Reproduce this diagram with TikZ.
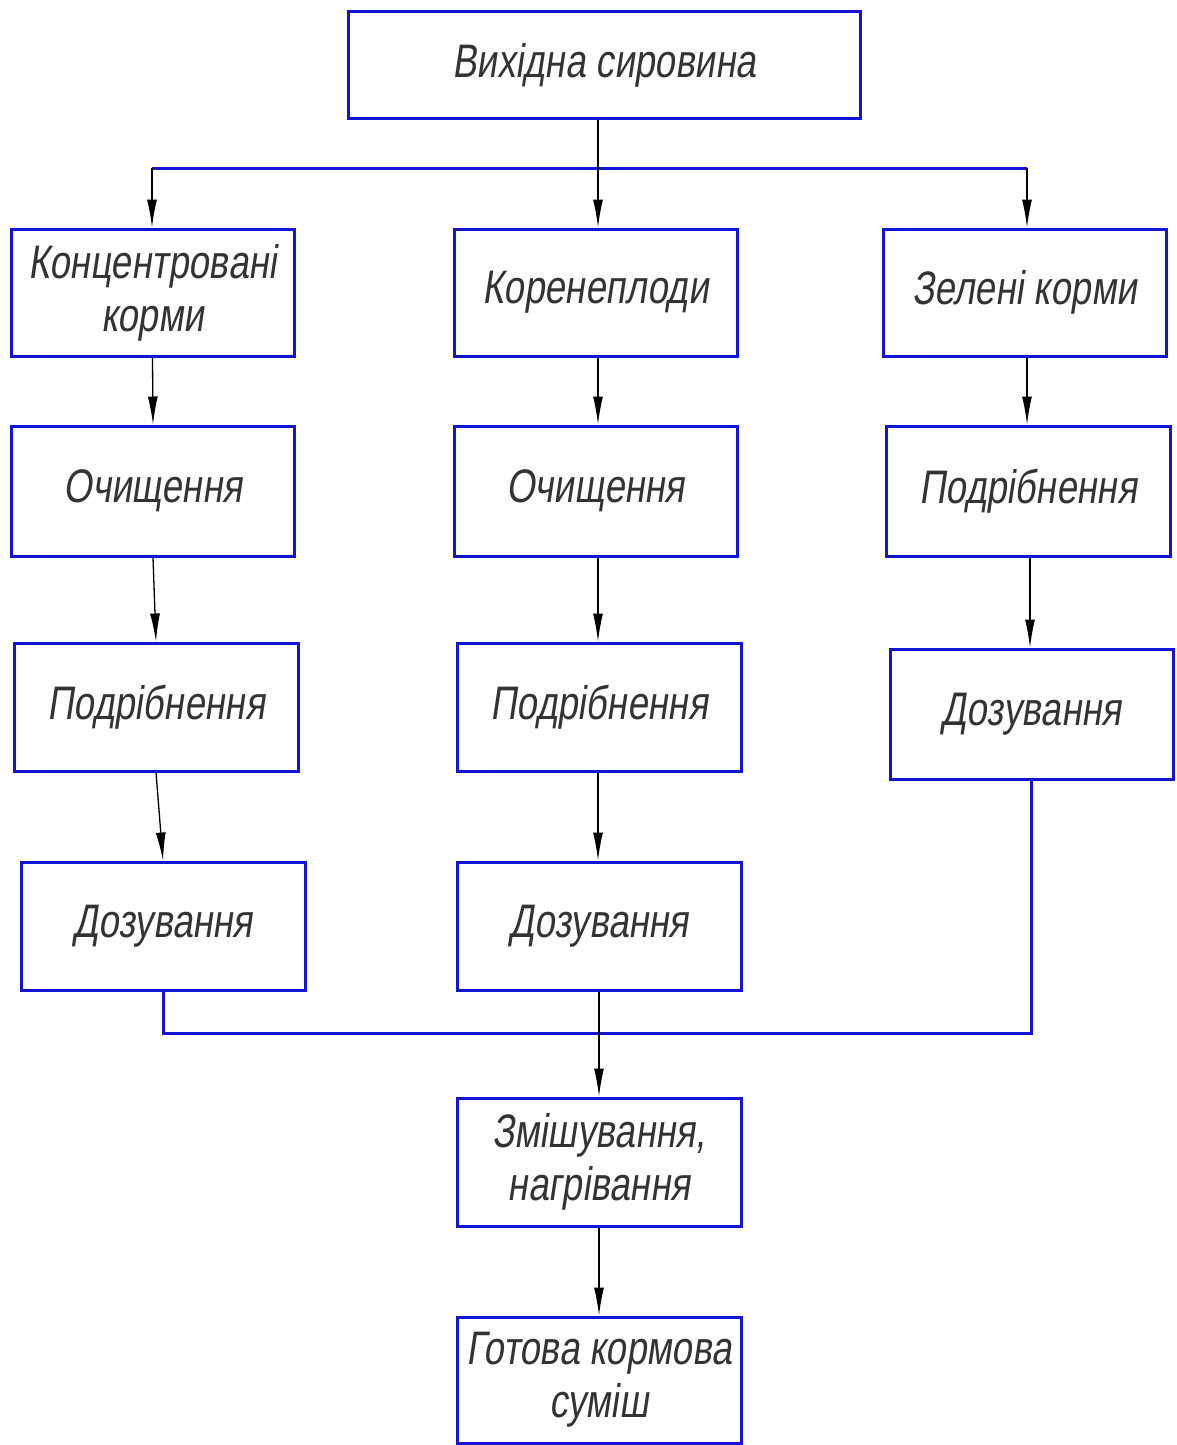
\documentclass[tikz,border=0pt]{standalone}
\usepackage{fontspec}
\setmainfont{Liberation Sans}[ItalicFont={Liberation Sans Italic}]
\newfontfamily\gostfont{Liberation Sans}[FakeStretch=0.78,FakeSlant=0.15]
\usetikzlibrary{arrows.meta}
\definecolor{lineblue}{RGB}{20,20,215}
\begin{document}
\begin{tikzpicture}[x=1pt,y=-1pt,
  box/.style={draw=lineblue,line width=3pt,rectangle,align=center,inner sep=0pt,
    font=\gostfont\fontsize{47}{53}\selectfont,text=black!80},
  rowbox/.style={box,minimum width=283pt,minimum height=128pt},
  arr/.style={draw=black,line width=1.3pt,-{Latex[length=28pt,width=10pt]}},
  bus/.style={draw=lineblue,line width=3pt}]
\useasboundingbox (0,0) rectangle (1176,1445);
\fill[white] (0,0) rectangle (1176,1445);
% nodes
\node[box,minimum width=512pt,minimum height=106pt] (top) at (604,65) {Вихідна сировина};
\node[rowbox,minimum height=127pt] (c1) at (152.5,292.5) {Концентровані\\корми};
\node[rowbox,minimum height=127pt] (c2) at (595.5,292.5) {Коренеплоди};
\node[rowbox,minimum height=127pt] (c3) at (1024.5,292.5) {Зелені корми};
\node[rowbox,minimum height=130pt] (o1) at (153,491) {Очищення};
\node[rowbox,minimum height=130pt] (o2) at (595.5,491) {Очищення};
\node[rowbox,minimum width=284pt,minimum height=130pt] (p3) at (1028,491) {Подрібнення};
\node[rowbox,minimum width=284pt] (p1) at (156,707) {Подрібнення};
\node[rowbox,minimum width=284pt] (p2) at (599,707) {Подрібнення};
\node[rowbox,minimum height=130pt] (d3) at (1031.5,714) {Дозування};
\node[rowbox,minimum width=284pt] (d1) at (163,926) {Дозування};
\node[rowbox,minimum width=284pt] (d2) at (599,926) {Дозування};
\node[rowbox,minimum width=284pt] (m) at (599,1162) {Змішування,\\нагрівання};
\node[rowbox,minimum width=284pt,minimum height=126pt] (g) at (599,1380) {Готова кормова\\суміш};
% distribution bus
\coordinate (bl) at (152,168);
\coordinate (bm) at (598,168);
\coordinate (br) at (1027,168);
\draw[bus] (bl) -- (br);
\draw[arr] (top.south -| bm) -- (bm |- c2.north);
\draw[arr] (bl) -- (bl |- c1.north);
\draw[arr] (br) -- (br |- c3.north);
% columns
\draw[arr] (c1.south) -- (o1.north);
\draw[arr] (o1.south) -- (p1.north);
\draw[arr] (p1.south) -- (d1.north);
\draw[arr] (c2.south -| bm) -- (o2.north -| bm);
\draw[arr] (o2.south -| bm) -- (p2.north -| bm);
\draw[arr] (p2.south -| bm) -- (d2.north -| bm);
\draw[arr] (c3.south -| br) -- (p3.north -| br);
\draw[arr] (p3.south -| 1030,0) -- (d3.north -| 1030,0);
% collector
\coordinate (cl) at (163,1033);
\coordinate (cr) at (1031,1033);
\draw[bus] (d1.south) -- (cl) -- (cr) -- (d3.south -| cr);
\draw[arr] (d2.south) -- (m.north);
\draw[arr] (m.south) -- (g.north);
\end{tikzpicture}
\end{document}
